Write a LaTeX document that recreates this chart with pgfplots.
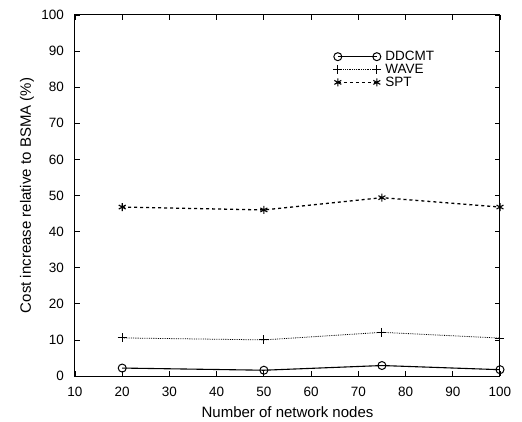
\documentclass[border=0pt]{standalone}
\usepackage{pgfplots}
\pgfplotsset{compat=1.18}
\usepackage{fontspec}
\setmainfont{Liberation Sans}
\begin{document}
\begin{tikzpicture}
\begin{axis}[
  scale only axis,
  width=425pt, height=361pt,
  xmin=10, xmax=100, ymin=0, ymax=100,
  xtick={10,20,...,100}, ytick={0,10,...,100},
  tick align=inside, tick pos=both,
  major tick length=5pt,
  /pgf/number format/assume math mode=true,
  tick label style={font=\fontsize{13.5}{15}\selectfont, inner sep=0pt},
  xticklabel style={yshift=-11pt},
  yticklabel style={xshift=-11pt},
  label style={font=\fontsize{15}{17}\selectfont},
  xlabel={Number of network nodes},
  ylabel={Cost increase relative to BSMA (\%)},
  xlabel style={at={(rel axis cs:0.5,-0.1)}, anchor=center},
  ylabel style={at={(rel axis cs:-0.113,0.5)}, anchor=center},
  axis line style={line width=1pt},
  every tick/.style={line width=0.8pt},
  legend style={draw=none, fill=none, at={(rel axis cs:0.607,0.903)}, anchor=north west,
    font=\fontsize{13.5}{13.5}\selectfont, row sep=0pt, inner sep=0pt, nodes={inner sep=1pt}},
  legend cell align=left,
  legend image code/.code={\draw[#1] plot coordinates {(0pt,0pt) (39pt,0pt)}; \path (-4pt,0pt) (46pt,0pt);},
]
\addplot[black, line width=1.1pt, mark=o, mark size=4pt, mark options={solid, line width=1pt}] coordinates {(20,2.2) (50,1.6) (75,2.9) (100,1.75)};
\addlegendentry{DDCMT}
\addplot[black, line width=0.8pt, densely dotted, mark=+, mark size=4.5pt, mark options={solid, line width=1pt}] coordinates {(20,10.55) (50,10.0) (75,12.1) (100,10.5)};
\addlegendentry{WAVE}
\addplot[black, line width=1.3pt, dashed, mark=asterisk, mark size=4pt, mark options={solid, line width=1.1pt}] coordinates {(20,46.8) (50,46.0) (75,49.4) (100,46.8)};
\addlegendentry{SPT}
\coordinate (ll) at (rel axis cs:0,0);
\end{axis}
\pgfresetboundingbox
\path (ll) ++(-75pt,-45pt) rectangle ++(522pt,421pt);
\end{tikzpicture}
\end{document}
